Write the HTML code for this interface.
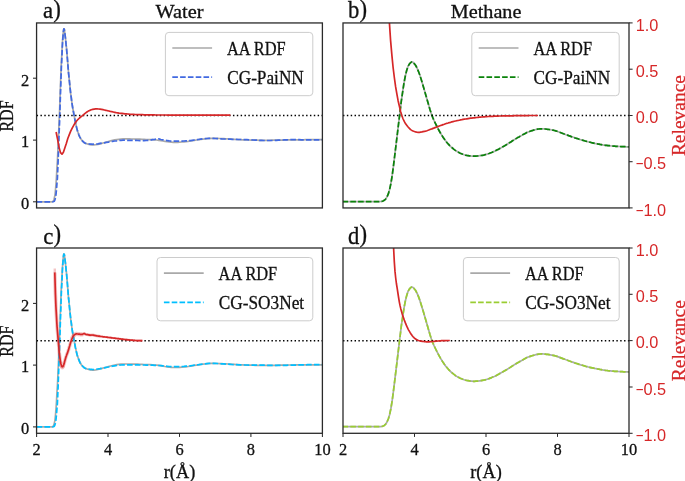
<!DOCTYPE html>
<html><head><meta charset="utf-8"><title>RDF and relevance</title>
<style>html,body{margin:0;padding:0;background:#fff}svg{display:block}</style></head>
<body>
<svg width="685" height="481" viewBox="0 0 685 481">
<rect width="100%" height="100%" fill="#fff"/>
<defs>
<clipPath id="cpa"><rect x="36.57" y="22.95" width="285.83" height="185.0"/></clipPath>
<clipPath id="cpb"><rect x="343.0" y="22.95" width="286.0" height="185.0"/></clipPath>
<clipPath id="cpc"><rect x="36.57" y="248.0" width="285.83" height="185.3"/></clipPath>
<clipPath id="cpd"><rect x="343.0" y="248.0" width="286.0" height="185.3"/></clipPath>
</defs>
<g clip-path="url(#cpa)" fill="none" stroke-linejoin="round">
<path d="M36.6,201.8 L43.4,201.8 L50.1,201.8 L50.5,201.8 L50.8,201.8 L51.1,201.8 L51.4,201.8 L51.7,201.8 L52.0,201.7 L52.3,201.6 L52.7,201.5 L53.0,201.3 L53.3,201.2 L53.6,200.6 L53.9,199.8 L54.2,198.6 L54.5,197.3 L54.9,195.5 L55.2,193.0 L55.5,189.9 L55.8,186.3 L56.1,182.5 L56.4,178.0 L56.7,172.6 L57.0,166.8 L57.4,160.7 L57.7,154.6 L58.0,148.1 L58.3,141.2 L58.6,134.2 L58.9,127.1 L59.2,119.1 L59.6,110.2 L59.9,101.4 L60.2,92.9 L60.5,84.5 L60.8,76.3 L61.1,68.5 L61.4,61.5 L61.8,54.7 L62.1,48.4 L62.4,42.9 L62.7,38.9 L63.0,35.3 L63.3,32.2 L63.6,29.8 L63.9,28.8 L64.3,29.5 L64.6,31.3 L64.9,33.7 L65.2,36.2 L65.5,38.6 L65.8,41.5 L66.1,44.7 L66.5,48.1 L66.8,51.7 L67.1,55.1 L67.4,58.7 L67.7,62.4 L68.0,66.2 L68.3,70.0 L68.6,73.6 L69.0,77.0 L69.3,80.2 L69.6,83.2 L69.9,86.2 L70.2,89.1 L70.5,91.9 L70.8,94.6 L71.2,97.1 L71.5,99.6 L71.8,101.9 L72.1,104.0 L72.4,106.0 L72.7,107.9 L73.0,109.8 L73.4,111.5 L73.7,113.2 L74.0,114.8 L74.3,116.4 L74.6,118.0 L74.9,119.6 L75.2,121.2 L75.5,122.8 L75.9,124.3 L76.2,125.8 L76.5,127.1 L76.8,128.4 L77.1,129.6 L77.4,130.6 L77.7,131.6 L78.1,132.5 L78.4,133.4 L78.7,134.3 L79.0,135.1 L79.3,135.8 L79.6,136.6 L79.9,137.2 L80.3,137.9 L80.6,138.4 L80.9,138.9 L81.2,139.4 L81.5,139.8 L81.8,140.2 L82.1,140.5 L82.4,140.9 L82.8,141.2 L83.1,141.5 L83.4,141.8 L83.7,142.1 L84.0,142.4 L84.3,142.6 L84.6,142.8 L85.0,143.0 L85.3,143.2 L85.6,143.3 L85.9,143.5 L86.2,143.6 L86.5,143.7 L86.8,143.8 L87.2,143.9 L87.5,144.0 L87.8,144.1 L88.1,144.2 L88.4,144.3 L88.7,144.4 L89.0,144.4 L89.3,144.5 L89.7,144.6 L90.0,144.7 L90.3,144.7 L90.6,144.8 L90.9,144.8 L91.2,144.9 L91.5,144.9 L91.9,144.9 L92.2,145.0 L92.5,145.0 L92.8,145.0 L93.1,145.0 L93.4,145.0 L93.7,145.0 L95.8,144.7 L97.9,144.3 L100.0,143.8 L102.1,143.3 L104.2,142.7 L106.3,142.1 L108.4,141.5 L110.5,140.9 L112.6,140.4 L114.7,139.9 L116.8,139.6 L118.9,139.3 L121.0,139.0 L123.1,138.9 L125.2,138.9 L127.3,138.9 L129.4,138.9 L131.5,139.0 L133.6,139.0 L135.7,139.1 L137.8,139.1 L139.9,139.2 L142.0,139.3 L144.1,139.4 L146.2,139.5 L148.3,139.6 L150.4,139.6 L152.5,139.7 L154.6,139.9 L156.7,140.0 L158.8,140.3 L160.9,140.6 L163.0,141.0 L165.1,141.4 L167.2,141.7 L169.3,142.0 L171.4,142.2 L173.5,142.4 L175.6,142.4 L177.7,142.3 L179.8,142.2 L181.9,142.0 L183.9,141.9 L186.0,141.7 L188.1,141.4 L190.2,141.0 L192.3,140.7 L194.4,140.3 L196.5,140.0 L198.6,139.7 L200.7,139.4 L202.8,139.1 L204.9,138.9 L207.0,138.6 L209.1,138.4 L211.2,138.3 L213.3,138.3 L215.4,138.4 L217.5,138.4 L219.6,138.5 L221.7,138.6 L223.8,138.7 L225.9,138.8 L228.0,138.9 L230.1,139.0 L232.2,139.2 L234.3,139.3 L236.4,139.5 L238.5,139.6 L240.6,139.7 L242.7,139.8 L244.8,139.9 L246.9,140.0 L249.0,140.0 L251.1,140.1 L253.2,140.1 L255.3,140.2 L257.4,140.2 L259.5,140.3 L261.6,140.3 L263.7,140.3 L265.8,140.3 L267.9,140.3 L270.0,140.3 L272.1,140.2 L274.2,140.2 L276.3,140.2 L278.4,140.1 L280.5,140.1 L282.5,140.1 L284.6,140.0 L286.7,140.0 L288.8,139.9 L290.9,139.9 L293.0,139.9 L295.1,139.8 L297.2,139.8 L299.3,139.8 L301.4,139.8 L303.5,139.8 L305.6,139.7 L307.7,139.7 L309.8,139.7 L311.9,139.7 L314.0,139.7 L316.1,139.7 L318.2,139.7 L320.3,139.7 L322.4,139.7" stroke="#a9a9a9" stroke-width="1.7"/>
<path d="M36.6,201.8 L43.4,201.8 L50.1,201.8 L50.5,201.8 L50.8,201.8 L51.1,201.8 L51.4,201.8 L51.7,201.8 L52.0,201.8 L52.3,201.8 L52.7,201.8 L53.0,201.7 L53.3,201.6 L53.6,201.5 L53.9,201.4 L54.2,201.2 L54.5,200.7 L54.9,199.8 L55.2,198.7 L55.5,197.4 L55.8,195.7 L56.1,193.3 L56.4,190.2 L56.7,186.6 L57.0,182.8 L57.4,178.1 L57.7,171.3 L58.0,163.8 L58.3,156.1 L58.6,147.9 L58.9,139.3 L59.2,130.4 L59.6,121.2 L59.9,111.7 L60.2,102.1 L60.5,92.9 L60.8,83.9 L61.1,75.1 L61.4,66.8 L61.8,59.4 L62.1,52.1 L62.4,45.6 L62.7,40.5 L63.0,36.6 L63.3,33.0 L63.6,30.2 L63.9,28.9 L64.3,29.4 L64.6,31.3 L64.9,33.7 L65.2,36.2 L65.5,38.6 L65.8,41.5 L66.1,44.7 L66.5,48.1 L66.8,51.7 L67.1,55.1 L67.4,58.7 L67.7,62.4 L68.0,66.2 L68.3,70.0 L68.6,73.6 L69.0,77.0 L69.3,80.2 L69.6,83.2 L69.9,86.2 L70.2,89.1 L70.5,91.9 L70.8,94.6 L71.2,97.1 L71.5,99.6 L71.8,101.9 L72.1,104.0 L72.4,106.0 L72.7,107.9 L73.0,109.8 L73.4,111.5 L73.7,113.2 L74.0,114.8 L74.3,116.4 L74.6,118.0 L74.9,119.6 L75.2,121.2 L75.5,122.8 L75.9,124.3 L76.2,125.8 L76.5,127.1 L76.8,128.4 L77.1,129.6 L77.4,130.6 L77.7,131.6 L78.1,132.5 L78.4,133.4 L78.7,134.3 L79.0,135.1 L79.3,135.8 L79.6,136.6 L79.9,137.2 L80.3,137.9 L80.6,138.4 L80.9,138.9 L81.2,139.4 L81.5,139.8 L81.8,140.2 L82.1,140.5 L82.4,140.9 L82.8,141.3 L83.1,141.6 L83.4,141.9 L83.7,142.2 L84.0,142.5 L84.3,142.7 L84.6,142.9 L85.0,143.1 L85.3,143.3 L85.6,143.4 L85.9,143.5 L86.2,143.5 L86.5,143.6 L86.8,143.6 L87.2,143.7 L87.5,143.8 L87.8,143.8 L88.1,143.9 L88.4,143.9 L88.7,143.9 L89.0,144.0 L89.3,144.0 L89.7,144.1 L90.0,144.1 L90.3,144.1 L90.6,144.2 L90.9,144.2 L91.2,144.2 L91.5,144.2 L91.9,144.2 L92.2,144.2 L92.5,144.2 L92.8,144.3 L93.1,144.3 L93.4,144.2 L93.7,144.2 L95.8,144.1 L97.9,143.8 L100.0,143.4 L102.1,143.1 L104.2,142.8 L106.3,142.4 L108.4,142.1 L110.5,141.7 L112.6,141.3 L114.7,141.0 L116.8,140.8 L118.9,140.5 L121.0,140.3 L123.1,140.2 L125.2,140.2 L127.3,140.3 L129.4,140.3 L131.5,140.3 L133.6,140.4 L135.7,140.4 L137.8,140.5 L139.9,140.6 L142.0,140.6 L144.1,140.6 L146.2,140.5 L148.3,140.4 L150.4,140.2 L152.5,139.7 L154.6,139.4 L156.7,139.0 L158.8,138.9 L160.9,139.5 L163.0,139.9 L165.1,140.3 L167.2,140.6 L169.3,140.9 L171.4,141.1 L173.5,141.2 L175.6,141.2 L177.7,141.2 L179.8,141.1 L181.9,141.1 L183.9,141.0 L186.0,140.9 L188.1,140.8 L190.2,140.6 L192.3,140.3 L194.4,140.0 L196.5,139.7 L198.6,139.5 L200.7,139.2 L202.8,138.9 L204.9,138.7 L207.0,138.5 L209.1,138.4 L211.2,138.3 L213.3,138.4 L215.4,138.5 L217.5,138.6 L219.6,138.7 L221.7,138.9 L223.8,139.0 L225.9,139.0 L228.0,139.1 L230.1,139.2 L232.2,139.3 L234.3,139.3 L236.4,139.4 L238.5,139.5 L240.6,139.5 L242.7,139.6 L244.8,139.6 L246.9,139.7 L249.0,139.8 L251.1,139.9 L253.2,140.0 L255.3,140.1 L257.4,140.2 L259.5,140.3 L261.6,140.4 L263.7,140.5 L265.8,140.5 L267.9,140.5 L270.0,140.5 L272.1,140.5 L274.2,140.4 L276.3,140.3 L278.4,140.2 L280.5,140.1 L282.5,140.0 L284.6,139.9 L286.7,139.8 L288.8,139.7 L290.9,139.6 L293.0,139.6 L295.1,139.6 L297.2,139.7 L299.3,139.7 L301.4,139.8 L303.5,139.8 L305.6,139.9 L307.7,139.9 L309.8,139.9 L311.9,139.9 L314.0,139.9 L316.1,139.9 L318.2,139.9 L320.3,139.8 L322.4,139.7" stroke="#4169e1" stroke-width="1.7" stroke-dasharray="5.6 2.2"/>
<path d="M36.6 115.45H322.4" stroke="#000" stroke-width="1.5" stroke-dasharray="1.45 2.4"/>
<path d="M56.1,132.0 L57.6,139.3 L59.0,147.1 L60.5,152.6 L62.0,154.2 L63.4,152.2 L64.9,147.8 L66.4,143.2 L67.8,138.5 L69.3,134.6 L70.7,131.1 L72.2,128.1 L73.7,125.4 L75.1,123.0 L76.6,121.0 L78.1,119.3 L79.5,118.0 L81.0,116.7 L82.5,115.6 L83.9,114.3 L85.4,113.1 L86.9,112.0 L88.3,111.1 L89.8,110.4 L91.3,109.8 L92.7,109.4 L94.2,109.1 L95.6,108.9 L97.1,108.9 L98.6,109.0 L100.0,109.2 L101.5,109.4 L103.0,109.7 L104.4,110.0 L105.9,110.3 L107.4,110.7 L108.8,111.0 L110.3,111.4 L111.8,111.7 L113.2,112.0 L114.7,112.3 L116.2,112.6 L117.6,112.8 L119.1,113.1 L120.5,113.3 L122.0,113.4 L123.5,113.6 L124.9,113.8 L126.4,113.9 L127.9,114.0 L129.3,114.2 L130.8,114.3 L132.3,114.4 L133.7,114.4 L135.2,114.5 L136.7,114.6 L138.1,114.6 L139.6,114.6 L141.1,114.7 L142.5,114.7 L144.0,114.8 L145.4,114.8 L146.9,114.8 L148.4,114.8 L149.8,114.9 L151.3,114.9 L152.8,114.9 L154.2,114.9 L155.7,115.0 L157.2,115.0 L158.6,115.0 L160.1,115.0 L161.6,115.0 L163.0,115.0 L164.5,115.0 L166.0,115.0 L167.4,115.1 L168.9,115.1 L170.3,115.1 L171.8,115.1 L173.3,115.1 L174.7,115.1 L176.2,115.1 L177.7,115.1 L179.1,115.1 L180.6,115.1 L182.1,115.2 L183.5,115.2 L185.0,115.2 L186.5,115.2 L187.9,115.2 L189.4,115.2 L190.9,115.2 L192.3,115.2 L193.8,115.2 L195.2,115.2 L196.7,115.2 L198.2,115.2 L199.6,115.2 L201.1,115.2 L202.6,115.2 L204.0,115.2 L205.5,115.2 L207.0,115.2 L208.4,115.2 L209.9,115.2 L211.4,115.2 L212.8,115.2 L214.3,115.2 L215.8,115.2 L217.2,115.2 L218.7,115.2 L220.1,115.2 L221.6,115.2 L223.1,115.2 L224.5,115.2 L226.0,115.2 L227.5,115.2 L228.9,115.2 L230.4,115.2" stroke="#d62728" stroke-width="1.7"/>
</g>
<g clip-path="url(#cpb)" fill="none" stroke-linejoin="round">
<path d="M342.5,201.6 L343.8,201.6 L345.1,201.6 L346.4,201.6 L347.7,201.6 L349.0,201.6 L350.3,201.6 L351.7,201.6 L353.0,201.6 L354.3,201.6 L355.6,201.6 L356.9,201.6 L358.2,201.6 L359.5,201.6 L360.8,201.6 L362.1,201.6 L363.4,201.6 L364.7,201.6 L366.0,201.6 L367.3,201.6 L368.7,201.6 L370.0,201.6 L371.3,201.6 L372.6,201.6 L373.9,201.6 L375.2,201.6 L376.5,201.6 L377.8,201.6 L379.1,201.6 L380.4,201.5 L381.7,201.4 L383.0,201.0 L384.3,200.3 L385.7,199.0 L387.0,196.9 L388.3,193.9 L389.6,189.6 L390.9,183.4 L392.2,175.5 L393.5,165.6 L394.8,155.0 L396.1,144.3 L397.4,133.5 L398.7,122.6 L400.0,111.9 L401.3,101.1 L402.7,91.6 L404.0,83.0 L405.3,76.1 L406.6,70.8 L407.9,66.6 L409.2,64.3 L410.5,62.7 L411.8,61.9 L413.1,62.4 L414.4,63.8 L415.7,65.5 L417.0,68.0 L418.4,71.3 L419.7,74.8 L421.0,78.8 L422.3,83.1 L423.6,87.5 L424.9,92.0 L426.2,96.4 L427.5,100.9 L428.8,105.5 L430.1,109.9 L431.4,113.9 L432.7,117.4 L434.0,120.5 L435.4,123.4 L436.7,126.0 L438.0,128.6 L439.3,131.0 L440.6,133.3 L441.9,135.4 L443.2,137.5 L444.5,139.3 L445.8,141.1 L447.1,142.7 L448.4,144.2 L449.7,145.6 L451.0,146.9 L452.4,148.0 L453.7,149.1 L455.0,150.1 L456.3,151.0 L457.6,151.8 L458.9,152.5 L460.2,153.2 L461.5,153.7 L462.8,154.2 L464.1,154.7 L465.4,155.1 L466.7,155.4 L468.0,155.6 L469.4,155.8 L470.7,156.0 L472.0,156.1 L473.3,156.2 L474.6,156.2 L475.9,156.1 L477.2,156.0 L478.5,155.9 L479.8,155.7 L481.1,155.5 L482.4,155.3 L483.7,155.1 L485.0,154.7 L486.4,154.4 L487.7,153.9 L489.0,153.5 L490.3,153.0 L491.6,152.5 L492.9,151.9 L494.2,151.4 L495.5,150.8 L496.8,150.1 L498.1,149.4 L499.4,148.7 L500.7,147.9 L502.0,147.2 L503.4,146.4 L504.7,145.7 L506.0,144.9 L507.3,144.2 L508.6,143.3 L509.9,142.5 L511.2,141.7 L512.5,140.8 L513.8,140.0 L515.1,139.2 L516.4,138.4 L517.7,137.6 L519.0,136.9 L520.4,136.1 L521.7,135.4 L523.0,134.6 L524.3,133.9 L525.6,133.2 L526.9,132.5 L528.2,131.9 L529.5,131.5 L530.8,131.0 L532.1,130.6 L533.4,130.2 L534.7,129.9 L536.0,129.5 L537.4,129.2 L538.7,129.0 L540.0,128.9 L541.3,128.8 L542.6,128.8 L543.9,128.9 L545.2,129.0 L546.5,129.2 L547.8,129.3 L549.1,129.5 L550.4,129.7 L551.7,130.0 L553.0,130.2 L554.4,130.5 L555.7,130.9 L557.0,131.3 L558.3,131.8 L559.6,132.3 L560.9,132.8 L562.2,133.3 L563.5,133.8 L564.8,134.2 L566.1,134.7 L567.4,135.1 L568.7,135.6 L570.1,136.1 L571.4,136.6 L572.7,137.0 L574.0,137.5 L575.3,138.0 L576.6,138.4 L577.9,138.8 L579.2,139.3 L580.5,139.7 L581.8,140.0 L583.1,140.4 L584.4,140.8 L585.7,141.2 L587.1,141.5 L588.4,141.9 L589.7,142.2 L591.0,142.5 L592.3,142.8 L593.6,143.1 L594.9,143.4 L596.2,143.6 L597.5,143.9 L598.8,144.1 L600.1,144.4 L601.4,144.6 L602.7,144.9 L604.1,145.1 L605.4,145.3 L606.7,145.4 L608.0,145.6 L609.3,145.7 L610.6,145.8 L611.9,146.0 L613.2,146.1 L614.5,146.2 L615.8,146.3 L617.1,146.3 L618.4,146.4 L619.7,146.5 L621.1,146.6 L622.4,146.6 L623.7,146.7 L625.0,146.7 L626.3,146.8 L627.6,146.8 L628.9,146.8" stroke="#a9a9a9" stroke-width="1.7"/>
<path d="M342.5,201.6 L343.8,201.6 L345.1,201.6 L346.4,201.6 L347.7,201.6 L349.0,201.6 L350.3,201.6 L351.7,201.6 L353.0,201.6 L354.3,201.6 L355.6,201.6 L356.9,201.6 L358.2,201.6 L359.5,201.6 L360.8,201.6 L362.1,201.6 L363.4,201.6 L364.7,201.6 L366.0,201.6 L367.3,201.6 L368.7,201.6 L370.0,201.6 L371.3,201.6 L372.6,201.6 L373.9,201.6 L375.2,201.6 L376.5,201.6 L377.8,201.6 L379.1,201.6 L380.4,201.5 L381.7,201.4 L383.0,201.0 L384.3,200.3 L385.7,199.0 L387.0,196.9 L388.3,193.9 L389.6,189.6 L390.9,183.4 L392.2,175.5 L393.5,165.6 L394.8,155.0 L396.1,144.3 L397.4,133.5 L398.7,122.6 L400.0,111.9 L401.3,101.1 L402.7,91.6 L404.0,83.0 L405.3,76.1 L406.6,70.8 L407.9,66.6 L409.2,64.3 L410.5,62.7 L411.8,61.9 L413.1,62.4 L414.4,63.8 L415.7,65.5 L417.0,68.0 L418.4,71.3 L419.7,74.8 L421.0,78.8 L422.3,83.1 L423.6,87.5 L424.9,92.0 L426.2,96.4 L427.5,100.9 L428.8,105.5 L430.1,109.9 L431.4,113.9 L432.7,117.4 L434.0,120.5 L435.4,123.4 L436.7,126.0 L438.0,128.6 L439.3,131.0 L440.6,133.3 L441.9,135.4 L443.2,137.5 L444.5,139.3 L445.8,141.1 L447.1,142.7 L448.4,144.2 L449.7,145.6 L451.0,146.9 L452.4,148.0 L453.7,149.1 L455.0,150.1 L456.3,151.0 L457.6,151.8 L458.9,152.5 L460.2,153.2 L461.5,153.7 L462.8,154.2 L464.1,154.7 L465.4,155.1 L466.7,155.4 L468.0,155.6 L469.4,155.8 L470.7,156.0 L472.0,156.1 L473.3,156.2 L474.6,156.2 L475.9,156.1 L477.2,156.0 L478.5,155.9 L479.8,155.7 L481.1,155.5 L482.4,155.3 L483.7,155.1 L485.0,154.7 L486.4,154.4 L487.7,153.9 L489.0,153.5 L490.3,153.0 L491.6,152.5 L492.9,151.9 L494.2,151.4 L495.5,150.8 L496.8,150.1 L498.1,149.4 L499.4,148.7 L500.7,147.9 L502.0,147.2 L503.4,146.4 L504.7,145.7 L506.0,144.9 L507.3,144.2 L508.6,143.3 L509.9,142.5 L511.2,141.7 L512.5,140.8 L513.8,140.0 L515.1,139.2 L516.4,138.4 L517.7,137.6 L519.0,136.9 L520.4,136.1 L521.7,135.4 L523.0,134.6 L524.3,133.9 L525.6,133.2 L526.9,132.5 L528.2,131.9 L529.5,131.5 L530.8,131.0 L532.1,130.6 L533.4,130.2 L534.7,129.9 L536.0,129.5 L537.4,129.2 L538.7,129.0 L540.0,128.9 L541.3,128.8 L542.6,128.8 L543.9,128.9 L545.2,129.0 L546.5,129.2 L547.8,129.3 L549.1,129.5 L550.4,129.7 L551.7,130.0 L553.0,130.2 L554.4,130.5 L555.7,130.9 L557.0,131.3 L558.3,131.8 L559.6,132.3 L560.9,132.8 L562.2,133.3 L563.5,133.8 L564.8,134.2 L566.1,134.7 L567.4,135.1 L568.7,135.6 L570.1,136.1 L571.4,136.6 L572.7,137.0 L574.0,137.5 L575.3,138.0 L576.6,138.4 L577.9,138.8 L579.2,139.3 L580.5,139.7 L581.8,140.0 L583.1,140.4 L584.4,140.8 L585.7,141.2 L587.1,141.5 L588.4,141.9 L589.7,142.2 L591.0,142.5 L592.3,142.8 L593.6,143.1 L594.9,143.4 L596.2,143.6 L597.5,143.9 L598.8,144.1 L600.1,144.4 L601.4,144.6 L602.7,144.9 L604.1,145.1 L605.4,145.3 L606.7,145.4 L608.0,145.6 L609.3,145.7 L610.6,145.8 L611.9,146.0 L613.2,146.1 L614.5,146.2 L615.8,146.3 L617.1,146.3 L618.4,146.4 L619.7,146.5 L621.1,146.6 L622.4,146.6 L623.7,146.7 L625.0,146.7 L626.3,146.8 L627.6,146.8 L628.9,146.8" stroke="#0a830a" stroke-width="1.7" stroke-dasharray="5.6 2.2"/>
<path d="M343 115.45H629" stroke="#000" stroke-width="1.5" stroke-dasharray="1.45 2.4"/>
<path d="M389.4,22.6 L390.6,40.6 L391.9,55.4 L393.1,67.5 L394.4,78.0 L395.6,86.7 L396.9,94.2 L398.1,100.7 L399.4,106.2 L400.6,111.4 L401.9,115.8 L403.1,119.0 L404.4,121.7 L405.6,123.8 L406.9,125.5 L408.1,127.0 L409.4,128.4 L410.6,129.6 L411.9,130.4 L413.1,131.0 L414.4,131.5 L415.6,131.9 L416.9,132.2 L418.1,132.3 L419.4,132.3 L420.6,132.1 L421.9,131.9 L423.1,131.6 L424.4,131.3 L425.6,131.1 L426.9,130.7 L428.1,130.3 L429.4,129.8 L430.6,129.3 L431.9,128.9 L433.1,128.4 L434.4,127.9 L435.6,127.4 L436.9,127.0 L438.1,126.5 L439.3,126.0 L440.6,125.5 L441.8,125.1 L443.1,124.6 L444.3,124.2 L445.6,123.7 L446.8,123.3 L448.1,123.0 L449.3,122.6 L450.6,122.3 L451.8,121.9 L453.1,121.6 L454.3,121.3 L455.6,121.0 L456.8,120.7 L458.1,120.5 L459.3,120.2 L460.6,119.9 L461.8,119.7 L463.1,119.4 L464.3,119.2 L465.6,119.0 L466.8,118.8 L468.1,118.6 L469.3,118.4 L470.6,118.2 L471.8,118.1 L473.1,117.9 L474.3,117.8 L475.6,117.6 L476.8,117.5 L478.1,117.3 L479.3,117.2 L480.6,117.1 L481.8,117.0 L483.1,116.9 L484.3,116.8 L485.6,116.7 L486.8,116.6 L488.1,116.5 L489.3,116.4 L490.5,116.4 L491.8,116.3 L493.0,116.3 L494.3,116.2 L495.5,116.2 L496.8,116.1 L498.0,116.1 L499.3,116.0 L500.5,116.0 L501.8,116.0 L503.0,115.9 L504.3,115.9 L505.5,115.9 L506.8,115.9 L508.0,115.8 L509.3,115.8 L510.5,115.8 L511.8,115.8 L513.0,115.8 L514.3,115.7 L515.5,115.7 L516.8,115.7 L518.0,115.7 L519.3,115.7 L520.5,115.6 L521.8,115.6 L523.0,115.6 L524.3,115.6 L525.5,115.6 L526.8,115.6 L528.0,115.6 L529.3,115.5 L530.5,115.5 L531.8,115.5 L533.0,115.5 L534.3,115.5 L535.5,115.5 L536.8,115.5 L538.0,115.5" stroke="#d62728" stroke-width="1.7"/>
</g>
<g clip-path="url(#cpc)" fill="none" stroke-linejoin="round">
<path d="M36.6,426.9 L43.4,426.9 L50.1,426.9 L50.5,426.9 L50.8,426.9 L51.1,426.9 L51.4,426.9 L51.7,426.9 L52.0,426.8 L52.3,426.7 L52.7,426.6 L53.0,426.4 L53.3,426.3 L53.6,425.7 L53.9,424.9 L54.2,423.7 L54.5,422.4 L54.9,420.6 L55.2,418.1 L55.5,415.0 L55.8,411.4 L56.1,407.6 L56.4,403.1 L56.7,397.7 L57.0,391.9 L57.4,385.8 L57.7,379.7 L58.0,373.2 L58.3,366.3 L58.6,359.3 L58.9,352.2 L59.2,344.2 L59.6,335.3 L59.9,326.5 L60.2,318.0 L60.5,309.6 L60.8,301.4 L61.1,293.6 L61.4,286.6 L61.8,279.8 L62.1,273.5 L62.4,268.0 L62.7,264.0 L63.0,260.4 L63.3,257.3 L63.6,254.9 L63.9,253.9 L64.3,254.6 L64.6,256.4 L64.9,258.8 L65.2,261.3 L65.5,263.7 L65.8,266.6 L66.1,269.8 L66.5,273.2 L66.8,276.8 L67.1,280.2 L67.4,283.8 L67.7,287.5 L68.0,291.3 L68.3,295.1 L68.6,298.7 L69.0,302.1 L69.3,305.3 L69.6,308.3 L69.9,311.3 L70.2,314.2 L70.5,317.0 L70.8,319.7 L71.2,322.2 L71.5,324.7 L71.8,327.0 L72.1,329.1 L72.4,331.1 L72.7,333.0 L73.0,334.9 L73.4,336.6 L73.7,338.3 L74.0,339.9 L74.3,341.5 L74.6,343.1 L74.9,344.7 L75.2,346.3 L75.5,347.9 L75.9,349.4 L76.2,350.9 L76.5,352.2 L76.8,353.5 L77.1,354.7 L77.4,355.7 L77.7,356.7 L78.1,357.6 L78.4,358.5 L78.7,359.4 L79.0,360.2 L79.3,360.9 L79.6,361.7 L79.9,362.3 L80.3,363.0 L80.6,363.5 L80.9,364.0 L81.2,364.5 L81.5,364.9 L81.8,365.3 L82.1,365.6 L82.4,366.0 L82.8,366.3 L83.1,366.6 L83.4,366.9 L83.7,367.2 L84.0,367.5 L84.3,367.7 L84.6,367.9 L85.0,368.1 L85.3,368.3 L85.6,368.4 L85.9,368.6 L86.2,368.7 L86.5,368.8 L86.8,368.9 L87.2,369.0 L87.5,369.1 L87.8,369.2 L88.1,369.3 L88.4,369.4 L88.7,369.5 L89.0,369.5 L89.3,369.6 L89.7,369.7 L90.0,369.8 L90.3,369.8 L90.6,369.9 L90.9,369.9 L91.2,370.0 L91.5,370.0 L91.9,370.0 L92.2,370.1 L92.5,370.1 L92.8,370.1 L93.1,370.1 L93.4,370.1 L93.7,370.1 L95.8,369.8 L97.9,369.4 L100.0,368.9 L102.1,368.4 L104.2,367.8 L106.3,367.2 L108.4,366.6 L110.5,366.0 L112.6,365.5 L114.7,365.0 L116.8,364.7 L118.9,364.4 L121.0,364.1 L123.1,364.0 L125.2,364.0 L127.3,364.0 L129.4,364.0 L131.5,364.1 L133.6,364.1 L135.7,364.2 L137.8,364.2 L139.9,364.3 L142.0,364.4 L144.1,364.5 L146.2,364.6 L148.3,364.7 L150.4,364.7 L152.5,364.8 L154.6,365.0 L156.7,365.1 L158.8,365.4 L160.9,365.7 L163.0,366.1 L165.1,366.5 L167.2,366.8 L169.3,367.1 L171.4,367.3 L173.5,367.5 L175.6,367.5 L177.7,367.4 L179.8,367.3 L181.9,367.1 L183.9,367.0 L186.0,366.8 L188.1,366.5 L190.2,366.1 L192.3,365.8 L194.4,365.4 L196.5,365.1 L198.6,364.8 L200.7,364.5 L202.8,364.2 L204.9,364.0 L207.0,363.7 L209.1,363.5 L211.2,363.4 L213.3,363.4 L215.4,363.5 L217.5,363.5 L219.6,363.6 L221.7,363.7 L223.8,363.8 L225.9,363.9 L228.0,364.0 L230.1,364.1 L232.2,364.3 L234.3,364.4 L236.4,364.6 L238.5,364.7 L240.6,364.8 L242.7,364.9 L244.8,365.0 L246.9,365.1 L249.0,365.1 L251.1,365.2 L253.2,365.2 L255.3,365.3 L257.4,365.3 L259.5,365.4 L261.6,365.4 L263.7,365.4 L265.8,365.4 L267.9,365.4 L270.0,365.4 L272.1,365.3 L274.2,365.3 L276.3,365.3 L278.4,365.2 L280.5,365.2 L282.5,365.2 L284.6,365.1 L286.7,365.1 L288.8,365.0 L290.9,365.0 L293.0,365.0 L295.1,364.9 L297.2,364.9 L299.3,364.9 L301.4,364.9 L303.5,364.9 L305.6,364.8 L307.7,364.8 L309.8,364.8 L311.9,364.8 L314.0,364.8 L316.1,364.8 L318.2,364.8 L320.3,364.8 L322.4,364.8" stroke="#a9a9a9" stroke-width="1.7"/>
<path d="M36.6,426.9 L43.4,426.9 L50.1,426.9 L50.5,426.9 L50.8,426.9 L51.1,426.9 L51.4,426.9 L51.7,426.9 L52.0,426.9 L52.3,426.9 L52.7,426.9 L53.0,426.8 L53.3,426.7 L53.6,426.6 L53.9,426.5 L54.2,426.3 L54.5,425.8 L54.9,424.9 L55.2,423.8 L55.5,422.5 L55.8,420.8 L56.1,418.4 L56.4,415.3 L56.7,411.7 L57.0,407.9 L57.4,403.2 L57.7,396.4 L58.0,388.9 L58.3,381.2 L58.6,373.0 L58.9,364.4 L59.2,355.5 L59.6,346.3 L59.9,336.8 L60.2,327.2 L60.5,318.0 L60.8,309.0 L61.1,300.2 L61.4,291.9 L61.8,284.5 L62.1,277.2 L62.4,270.7 L62.7,265.6 L63.0,261.7 L63.3,258.1 L63.6,255.3 L63.9,254.0 L64.3,254.5 L64.6,256.4 L64.9,258.8 L65.2,261.3 L65.5,263.7 L65.8,266.6 L66.1,269.8 L66.5,273.2 L66.8,276.8 L67.1,280.2 L67.4,283.8 L67.7,287.5 L68.0,291.3 L68.3,295.1 L68.6,298.7 L69.0,302.1 L69.3,305.3 L69.6,308.3 L69.9,311.3 L70.2,314.2 L70.5,317.0 L70.8,319.7 L71.2,322.2 L71.5,324.7 L71.8,327.0 L72.1,329.1 L72.4,331.1 L72.7,333.0 L73.0,334.9 L73.4,336.6 L73.7,338.3 L74.0,339.9 L74.3,341.5 L74.6,343.1 L74.9,344.7 L75.2,346.3 L75.5,347.9 L75.9,349.4 L76.2,350.9 L76.5,352.2 L76.8,353.5 L77.1,354.7 L77.4,355.7 L77.7,356.7 L78.1,357.6 L78.4,358.5 L78.7,359.4 L79.0,360.2 L79.3,360.9 L79.6,361.7 L79.9,362.3 L80.3,363.0 L80.6,363.5 L80.9,364.0 L81.2,364.5 L81.5,364.9 L81.8,365.3 L82.1,365.6 L82.4,366.0 L82.8,366.4 L83.1,366.7 L83.4,367.0 L83.7,367.3 L84.0,367.5 L84.3,367.8 L84.6,368.0 L85.0,368.2 L85.3,368.3 L85.6,368.5 L85.9,368.6 L86.2,368.6 L86.5,368.7 L86.8,368.8 L87.2,368.8 L87.5,368.9 L87.8,369.0 L88.1,369.0 L88.4,369.1 L88.7,369.1 L89.0,369.2 L89.3,369.2 L89.7,369.3 L90.0,369.3 L90.3,369.3 L90.6,369.4 L90.9,369.4 L91.2,369.4 L91.5,369.4 L91.9,369.4 L92.2,369.5 L92.5,369.5 L92.8,369.5 L93.1,369.5 L93.4,369.5 L93.7,369.5 L95.8,369.3 L97.9,369.0 L100.0,368.7 L102.1,368.3 L104.2,367.9 L106.3,367.4 L108.4,367.0 L110.5,366.5 L112.6,366.1 L114.7,365.8 L116.8,365.5 L118.9,365.2 L121.0,365.0 L123.1,364.9 L125.2,364.9 L127.3,364.9 L129.4,364.9 L131.5,364.9 L133.6,364.9 L135.7,364.9 L137.8,364.9 L139.9,365.0 L142.0,365.0 L144.1,365.0 L146.2,365.1 L148.3,365.1 L150.4,365.1 L152.5,365.2 L154.6,365.3 L156.7,365.3 L158.8,365.5 L160.9,365.7 L163.0,365.9 L165.1,366.1 L167.2,366.3 L169.3,366.5 L171.4,366.6 L173.5,366.7 L175.6,366.7 L177.7,366.6 L179.8,366.6 L181.9,366.5 L183.9,366.4 L186.0,366.2 L188.1,366.1 L190.2,365.8 L192.3,365.5 L194.4,365.2 L196.5,364.9 L198.6,364.7 L200.7,364.4 L202.8,364.1 L204.9,363.8 L207.0,363.6 L209.1,363.4 L211.2,363.3 L213.3,363.3 L215.4,363.4 L217.5,363.5 L219.6,363.7 L221.7,363.8 L223.8,363.9 L225.9,364.1 L228.0,364.2 L230.1,364.3 L232.2,364.5 L234.3,364.6 L236.4,364.7 L238.5,364.8 L240.6,364.9 L242.7,364.9 L244.8,365.0 L246.9,365.0 L249.0,365.1 L251.1,365.1 L253.2,365.1 L255.3,365.1 L257.4,365.1 L259.5,365.2 L261.6,365.2 L263.7,365.2 L265.8,365.3 L267.9,365.3 L270.0,365.3 L272.1,365.3 L274.2,365.3 L276.3,365.3 L278.4,365.3 L280.5,365.3 L282.5,365.3 L284.6,365.3 L286.7,365.3 L288.8,365.2 L290.9,365.2 L293.0,365.1 L295.1,365.1 L297.2,365.0 L299.3,364.9 L301.4,364.9 L303.5,364.8 L305.6,364.8 L307.7,364.7 L309.8,364.7 L311.9,364.6 L314.0,364.6 L316.1,364.6 L318.2,364.6 L320.3,364.6 L322.4,364.6" stroke="#00bfff" stroke-width="1.7" stroke-dasharray="5.6 2.2"/>
<path d="M36.6 340.65H322.4" stroke="#000" stroke-width="1.5" stroke-dasharray="1.45 2.4"/>
<path d="M54.8,272.5 L55.4,293.6 L55.9,306.2 L56.5,316.8 L57.0,326.0 L57.6,333.0 L58.1,339.0 L58.7,345.8 L59.2,352.2 L59.8,356.8 L60.3,360.5 L60.9,363.7 L61.4,365.6 L62.0,366.5 L62.5,366.7 L63.1,366.2 L63.6,365.1 L64.2,363.4 L64.7,361.3 L65.3,359.2 L65.8,357.4 L66.4,355.8 L66.9,354.3 L67.5,352.9 L68.0,351.3 L68.6,349.6 L69.1,347.7 L69.7,345.8 L70.2,344.0 L70.8,342.1 L71.3,340.5 L71.9,339.0" stroke="#d62728" stroke-opacity="0.27" stroke-width="3.5"/>
<path d="M71.9,339.0 L72.4,337.7 L73.0,336.6 L73.5,335.8 L74.1,335.1 L74.6,334.7 L75.2,334.3 L75.7,334.0 L76.3,333.9 L76.8,333.9 L77.4,334.0 L77.9,334.0 L78.5,334.1 L79.0,334.2 L79.6,334.2 L80.1,334.3 L80.7,334.3 L81.2,334.4 L81.8,334.4 L82.3,334.4 L82.9,334.1" stroke="#d62728" stroke-opacity="0.27" stroke-width="4.2"/>
<path d="M82.9,334.1 L83.4,333.8 L84.0,333.6 L84.6,333.6 L85.1,334.0 L85.7,334.4 L86.2,334.5 L86.8,334.6 L87.3,334.6 L87.9,334.7 L88.4,334.8 L89.0,334.9 L89.5,335.1 L90.1,335.2 L90.6,335.2 L91.2,335.1 L91.7,335.0 L92.3,335.0 L92.8,335.1 L93.4,335.1 L93.9,335.3 L94.5,335.4 L95.0,335.5 L95.6,335.6 L96.1,335.7 L96.7,335.8 L97.2,335.9 L97.8,336.0 L98.3,336.1 L98.9,336.2 L99.4,336.2 L100.0,336.3" stroke="#d62728" stroke-opacity="0.27" stroke-width="3"/>
<path d="M100.0,336.3 L100.5,336.4 L101.1,336.5 L101.6,336.5 L102.2,336.6 L102.7,336.7 L103.3,336.8 L103.8,336.8 L104.4,336.9 L104.9,337.0 L105.5,337.0 L106.0,337.1 L106.6,337.2 L107.1,337.2 L107.7,337.3 L108.2,337.4 L108.8,337.5 L109.3,337.5 L109.9,337.6 L110.4,337.7 L111.0,337.7 L111.5,337.8 L112.1,337.9 L112.6,338.0 L113.2,338.0 L113.8,338.1 L114.3,338.2 L114.9,338.2 L115.4,338.3 L116.0,338.4 L116.5,338.5 L117.1,338.5 L117.6,338.6 L118.2,338.7 L118.7,338.7 L119.3,338.8 L119.8,338.9 L120.4,338.9 L120.9,339.0 L121.5,339.1 L122.0,339.1 L122.6,339.2 L123.1,339.3 L123.7,339.3 L124.2,339.4 L124.8,339.5 L125.3,339.5 L125.9,339.6 L126.4,339.6 L127.0,339.7 L127.5,339.8 L128.1,339.8 L128.6,339.9 L129.2,339.9 L129.7,340.0 L130.3,340.0 L130.8,340.1 L131.4,340.1 L131.9,340.2 L132.5,340.2 L133.0,340.3 L133.6,340.3 L134.1,340.4 L134.7,340.4 L135.2,340.5 L135.8,340.5 L136.3,340.5 L136.9,340.6 L137.4,340.6 L138.0,340.6 L138.5,340.6 L139.1,340.6 L139.6,340.7 L140.2,340.7 L140.7,340.7 L141.3,340.7 L141.8,340.7 L142.4,340.7" stroke="#d62728" stroke-opacity="0.27" stroke-width="2.2"/>
<path d="M54.8 268.6V273.0" stroke="#d62728" stroke-opacity="0.27" stroke-width="2.4"/>
<path d="M60.5 366.0Q62.3 370.5 64.2 366.0" stroke="#d62728" stroke-opacity="0.27" stroke-width="2.4"/>
<path d="M54.8,272.5 L55.4,293.6 L55.9,306.2 L56.5,316.8 L57.0,326.0 L57.6,333.0 L58.1,339.0 L58.7,345.8 L59.2,352.2 L59.8,356.8 L60.3,360.5 L60.9,363.7 L61.4,365.6 L62.0,366.5 L62.5,366.7 L63.1,366.2 L63.6,365.1 L64.2,363.4 L64.7,361.3 L65.3,359.2 L65.8,357.4 L66.4,355.8 L66.9,354.3 L67.5,352.9 L68.0,351.3 L68.6,349.6 L69.1,347.7 L69.7,345.8 L70.2,344.0 L70.8,342.1 L71.3,340.5 L71.9,339.0 L72.4,337.7 L73.0,336.6 L73.5,335.8 L74.1,335.1 L74.6,334.7 L75.2,334.3 L75.7,334.0 L76.3,333.9 L76.8,333.9 L77.4,334.0 L77.9,334.0 L78.5,334.1 L79.0,334.2 L79.6,334.2 L80.1,334.3 L80.7,334.3 L81.2,334.4 L81.8,334.4 L82.3,334.4 L82.9,334.1 L83.4,333.8 L84.0,333.6 L84.6,333.6 L85.1,334.0 L85.7,334.4 L86.2,334.5 L86.8,334.6 L87.3,334.6 L87.9,334.7 L88.4,334.8 L89.0,334.9 L89.5,335.1 L90.1,335.2 L90.6,335.2 L91.2,335.1 L91.7,335.0 L92.3,335.0 L92.8,335.1 L93.4,335.1 L93.9,335.3 L94.5,335.4 L95.0,335.5 L95.6,335.6 L96.1,335.7 L96.7,335.8 L97.2,335.9 L97.8,336.0 L98.3,336.1 L98.9,336.2 L99.4,336.2 L100.0,336.3 L100.5,336.4 L101.1,336.5 L101.6,336.5 L102.2,336.6 L102.7,336.7 L103.3,336.8 L103.8,336.8 L104.4,336.9 L104.9,337.0 L105.5,337.0 L106.0,337.1 L106.6,337.2 L107.1,337.2 L107.7,337.3 L108.2,337.4 L108.8,337.5 L109.3,337.5 L109.9,337.6 L110.4,337.7 L111.0,337.7 L111.5,337.8 L112.1,337.9 L112.6,338.0 L113.2,338.0 L113.8,338.1 L114.3,338.2 L114.9,338.2 L115.4,338.3 L116.0,338.4 L116.5,338.5 L117.1,338.5 L117.6,338.6 L118.2,338.7 L118.7,338.7 L119.3,338.8 L119.8,338.9 L120.4,338.9 L120.9,339.0 L121.5,339.1 L122.0,339.1 L122.6,339.2 L123.1,339.3 L123.7,339.3 L124.2,339.4 L124.8,339.5 L125.3,339.5 L125.9,339.6 L126.4,339.6 L127.0,339.7 L127.5,339.8 L128.1,339.8 L128.6,339.9 L129.2,339.9 L129.7,340.0 L130.3,340.0 L130.8,340.1 L131.4,340.1 L131.9,340.2 L132.5,340.2 L133.0,340.3 L133.6,340.3 L134.1,340.4 L134.7,340.4 L135.2,340.5 L135.8,340.5 L136.3,340.5 L136.9,340.6 L137.4,340.6 L138.0,340.6 L138.5,340.6 L139.1,340.6 L139.6,340.7 L140.2,340.7 L140.7,340.7 L141.3,340.7 L141.8,340.7 L142.4,340.7" stroke="#d62728" stroke-width="1.7"/>
</g>
<g clip-path="url(#cpd)" fill="none" stroke-linejoin="round">
<path d="M342.5,426.7 L343.8,426.7 L345.1,426.7 L346.4,426.7 L347.7,426.7 L349.0,426.7 L350.3,426.7 L351.7,426.7 L353.0,426.7 L354.3,426.7 L355.6,426.7 L356.9,426.7 L358.2,426.7 L359.5,426.7 L360.8,426.7 L362.1,426.7 L363.4,426.7 L364.7,426.7 L366.0,426.7 L367.3,426.7 L368.7,426.7 L370.0,426.7 L371.3,426.7 L372.6,426.7 L373.9,426.7 L375.2,426.7 L376.5,426.7 L377.8,426.7 L379.1,426.7 L380.4,426.6 L381.7,426.5 L383.0,426.1 L384.3,425.4 L385.7,424.1 L387.0,422.0 L388.3,419.0 L389.6,414.7 L390.9,408.5 L392.2,400.6 L393.5,390.7 L394.8,380.1 L396.1,369.4 L397.4,358.6 L398.7,347.7 L400.0,337.0 L401.3,326.2 L402.7,316.7 L404.0,308.1 L405.3,301.2 L406.6,295.9 L407.9,291.7 L409.2,289.4 L410.5,287.8 L411.8,287.0 L413.1,287.5 L414.4,288.9 L415.7,290.6 L417.0,293.1 L418.4,296.4 L419.7,299.9 L421.0,303.9 L422.3,308.2 L423.6,312.6 L424.9,317.1 L426.2,321.5 L427.5,326.0 L428.8,330.6 L430.1,335.0 L431.4,339.0 L432.7,342.5 L434.0,345.6 L435.4,348.5 L436.7,351.1 L438.0,353.7 L439.3,356.1 L440.6,358.4 L441.9,360.5 L443.2,362.6 L444.5,364.4 L445.8,366.2 L447.1,367.8 L448.4,369.3 L449.7,370.7 L451.0,372.0 L452.4,373.1 L453.7,374.2 L455.0,375.2 L456.3,376.1 L457.6,376.9 L458.9,377.6 L460.2,378.3 L461.5,378.8 L462.8,379.3 L464.1,379.8 L465.4,380.2 L466.7,380.5 L468.0,380.7 L469.4,380.9 L470.7,381.1 L472.0,381.2 L473.3,381.3 L474.6,381.3 L475.9,381.2 L477.2,381.1 L478.5,381.0 L479.8,380.8 L481.1,380.6 L482.4,380.4 L483.7,380.2 L485.0,379.8 L486.4,379.5 L487.7,379.0 L489.0,378.6 L490.3,378.1 L491.6,377.6 L492.9,377.0 L494.2,376.5 L495.5,375.9 L496.8,375.2 L498.1,374.5 L499.4,373.8 L500.7,373.0 L502.0,372.3 L503.4,371.5 L504.7,370.8 L506.0,370.0 L507.3,369.3 L508.6,368.4 L509.9,367.6 L511.2,366.8 L512.5,365.9 L513.8,365.1 L515.1,364.3 L516.4,363.5 L517.7,362.7 L519.0,362.0 L520.4,361.2 L521.7,360.5 L523.0,359.7 L524.3,359.0 L525.6,358.3 L526.9,357.6 L528.2,357.0 L529.5,356.6 L530.8,356.1 L532.1,355.7 L533.4,355.3 L534.7,355.0 L536.0,354.6 L537.4,354.3 L538.7,354.1 L540.0,354.0 L541.3,353.9 L542.6,353.9 L543.9,354.0 L545.2,354.1 L546.5,354.3 L547.8,354.4 L549.1,354.6 L550.4,354.8 L551.7,355.1 L553.0,355.3 L554.4,355.6 L555.7,356.0 L557.0,356.4 L558.3,356.9 L559.6,357.4 L560.9,357.9 L562.2,358.4 L563.5,358.9 L564.8,359.3 L566.1,359.8 L567.4,360.2 L568.7,360.7 L570.1,361.2 L571.4,361.7 L572.7,362.1 L574.0,362.6 L575.3,363.1 L576.6,363.5 L577.9,363.9 L579.2,364.4 L580.5,364.8 L581.8,365.1 L583.1,365.5 L584.4,365.9 L585.7,366.3 L587.1,366.6 L588.4,367.0 L589.7,367.3 L591.0,367.6 L592.3,367.9 L593.6,368.2 L594.9,368.5 L596.2,368.7 L597.5,369.0 L598.8,369.2 L600.1,369.5 L601.4,369.7 L602.7,370.0 L604.1,370.2 L605.4,370.4 L606.7,370.5 L608.0,370.7 L609.3,370.8 L610.6,370.9 L611.9,371.1 L613.2,371.2 L614.5,371.3 L615.8,371.4 L617.1,371.4 L618.4,371.5 L619.7,371.6 L621.1,371.7 L622.4,371.7 L623.7,371.8 L625.0,371.8 L626.3,371.9 L627.6,371.9 L628.9,371.9" stroke="#a9a9a9" stroke-width="1.7"/>
<path d="M342.5,426.7 L343.8,426.7 L345.1,426.7 L346.4,426.7 L347.7,426.7 L349.0,426.7 L350.3,426.7 L351.7,426.7 L353.0,426.7 L354.3,426.7 L355.6,426.7 L356.9,426.7 L358.2,426.7 L359.5,426.7 L360.8,426.7 L362.1,426.7 L363.4,426.7 L364.7,426.7 L366.0,426.7 L367.3,426.7 L368.7,426.7 L370.0,426.7 L371.3,426.7 L372.6,426.7 L373.9,426.7 L375.2,426.7 L376.5,426.7 L377.8,426.7 L379.1,426.7 L380.4,426.6 L381.7,426.5 L383.0,426.1 L384.3,425.4 L385.7,424.1 L387.0,422.0 L388.3,419.0 L389.6,414.7 L390.9,408.5 L392.2,400.6 L393.5,390.7 L394.8,380.1 L396.1,369.4 L397.4,358.6 L398.7,347.7 L400.0,337.0 L401.3,326.2 L402.7,316.7 L404.0,308.1 L405.3,301.2 L406.6,295.9 L407.9,291.7 L409.2,289.4 L410.5,287.8 L411.8,287.0 L413.1,287.5 L414.4,288.9 L415.7,290.6 L417.0,293.1 L418.4,296.4 L419.7,299.9 L421.0,303.9 L422.3,308.2 L423.6,312.6 L424.9,317.1 L426.2,321.5 L427.5,326.0 L428.8,330.6 L430.1,335.0 L431.4,339.0 L432.7,342.5 L434.0,345.6 L435.4,348.5 L436.7,351.1 L438.0,353.7 L439.3,356.1 L440.6,358.4 L441.9,360.5 L443.2,362.6 L444.5,364.4 L445.8,366.2 L447.1,367.8 L448.4,369.3 L449.7,370.7 L451.0,372.0 L452.4,373.1 L453.7,374.2 L455.0,375.2 L456.3,376.1 L457.6,376.9 L458.9,377.6 L460.2,378.3 L461.5,378.8 L462.8,379.3 L464.1,379.8 L465.4,380.2 L466.7,380.5 L468.0,380.7 L469.4,380.9 L470.7,381.1 L472.0,381.2 L473.3,381.3 L474.6,381.3 L475.9,381.2 L477.2,381.1 L478.5,381.0 L479.8,380.8 L481.1,380.6 L482.4,380.4 L483.7,380.2 L485.0,379.8 L486.4,379.5 L487.7,379.0 L489.0,378.6 L490.3,378.1 L491.6,377.6 L492.9,377.0 L494.2,376.5 L495.5,375.9 L496.8,375.2 L498.1,374.5 L499.4,373.8 L500.7,373.0 L502.0,372.3 L503.4,371.5 L504.7,370.8 L506.0,370.0 L507.3,369.3 L508.6,368.4 L509.9,367.6 L511.2,366.8 L512.5,365.9 L513.8,365.1 L515.1,364.3 L516.4,363.5 L517.7,362.7 L519.0,362.0 L520.4,361.2 L521.7,360.5 L523.0,359.7 L524.3,359.0 L525.6,358.3 L526.9,357.6 L528.2,357.0 L529.5,356.6 L530.8,356.1 L532.1,355.7 L533.4,355.3 L534.7,355.0 L536.0,354.6 L537.4,354.3 L538.7,354.1 L540.0,354.0 L541.3,353.9 L542.6,353.9 L543.9,354.0 L545.2,354.1 L546.5,354.3 L547.8,354.4 L549.1,354.6 L550.4,354.8 L551.7,355.1 L553.0,355.3 L554.4,355.6 L555.7,356.0 L557.0,356.4 L558.3,356.9 L559.6,357.4 L560.9,357.9 L562.2,358.4 L563.5,358.9 L564.8,359.3 L566.1,359.8 L567.4,360.2 L568.7,360.7 L570.1,361.2 L571.4,361.7 L572.7,362.1 L574.0,362.6 L575.3,363.1 L576.6,363.5 L577.9,363.9 L579.2,364.4 L580.5,364.8 L581.8,365.1 L583.1,365.5 L584.4,365.9 L585.7,366.3 L587.1,366.6 L588.4,367.0 L589.7,367.3 L591.0,367.6 L592.3,367.9 L593.6,368.2 L594.9,368.5 L596.2,368.7 L597.5,369.0 L598.8,369.2 L600.1,369.5 L601.4,369.7 L602.7,370.0 L604.1,370.2 L605.4,370.4 L606.7,370.5 L608.0,370.7 L609.3,370.8 L610.6,370.9 L611.9,371.1 L613.2,371.2 L614.5,371.3 L615.8,371.4 L617.1,371.4 L618.4,371.5 L619.7,371.6 L621.1,371.7 L622.4,371.7 L623.7,371.8 L625.0,371.8 L626.3,371.9 L627.6,371.9 L628.9,371.9" stroke="#9acd32" stroke-width="1.7" stroke-dasharray="5.6 2.2"/>
<path d="M343 340.65H629" stroke="#000" stroke-width="1.5" stroke-dasharray="1.45 2.4"/>
<path d="M393.6,248.0 L394.3,261.6 L395.0,271.4 L395.7,278.0 L396.4,283.5 L397.2,288.3 L397.9,293.0 L398.6,297.5 L399.3,301.8 L400.0,305.4 L400.7,308.4 L401.4,311.1 L402.1,313.6 L402.8,315.9 L403.6,318.1 L404.3,320.1 L405.0,321.9 L405.7,323.7 L406.4,325.3 L407.1,326.9 L407.8,328.4 L408.5,329.8 L409.3,331.2 L410.0,332.4 L410.7,333.5 L411.4,334.6 L412.1,335.6 L412.8,336.5 L413.5,337.2 L414.2,337.9 L414.9,338.5 L415.7,339.0 L416.4,339.5 L417.1,339.9 L417.8,340.2 L418.5,340.5 L419.2,340.7 L419.9,340.9 L420.6,341.1 L421.3,341.2 L422.1,341.4 L422.8,341.4 L423.5,341.5 L424.2,341.6 L424.9,341.7 L425.6,341.7 L426.3,341.8 L427.0,341.8 L427.7,341.8 L428.5,341.8 L429.2,341.8 L429.9,341.7 L430.6,341.7 L431.3,341.6 L432.0,341.5 L432.7,341.5 L433.4,341.4 L434.1,341.4 L434.9,341.3 L435.6,341.2 L436.3,341.2 L437.0,341.1 L437.7,341.0 L438.4,341.0 L439.1,340.9 L439.8,340.8 L440.6,340.8 L441.3,340.7 L442.0,340.7 L442.7,340.7 L443.4,340.6 L444.1,340.6 L444.8,340.6 L445.5,340.6 L446.2,340.6 L447.0,340.5 L447.7,340.5 L448.4,340.5 L449.1,340.5 L449.8,340.5" stroke="#d62728" stroke-width="1.7"/>
</g>
<g fill="none" stroke="#2a2a2a" stroke-width="1.3">
<rect x="36.57" y="22.95" width="285.83" height="185.00"/>
<rect x="343.0" y="22.95" width="286.00" height="185.00"/>
<rect x="36.57" y="248.0" width="285.83" height="185.30"/>
<rect x="343.0" y="248.0" width="286.00" height="185.30"/>
</g>
<g fill="none" stroke="#2a2a2a" stroke-width="1.05">
<path d="M33.0 201.8H36.57"/>
<path d="M33.0 140.1H36.57"/>
<path d="M33.0 78.2H36.57"/>
<path d="M33.0 426.9H36.57"/>
<path d="M33.0 365.1H36.57"/>
<path d="M33.0 303.4H36.57"/>
<path d="M629.0 22.9h3.6"/>
<path d="M629.0 69.2h3.6"/>
<path d="M629.0 115.5h3.6"/>
<path d="M629.0 161.7h3.6"/>
<path d="M629.0 207.9h3.6"/>
<path d="M629.0 248.0h3.6"/>
<path d="M629.0 294.3h3.6"/>
<path d="M629.0 340.6h3.6"/>
<path d="M629.0 387.0h3.6"/>
<path d="M629.0 433.3h3.6"/>
<path d="M36.6 433.3v3.6"/>
<path d="M108.0 433.3v3.6"/>
<path d="M179.5 433.3v3.6"/>
<path d="M250.9 433.3v3.6"/>
<path d="M322.4 433.3v3.6"/>
<path d="M343.0 433.3v3.6"/>
<path d="M414.5 433.3v3.6"/>
<path d="M486.0 433.3v3.6"/>
<path d="M557.5 433.3v3.6"/>
<path d="M629.0 433.3v3.6"/>
</g>
<text x="43" y="18.4" font-size="22.8" fill="#111" stroke="#111" stroke-width="0.3" font-family="Liberation Serif, serif"><tspan>a</tspan><tspan x="53.2" y="17" font-size="26" textLength="7.6" lengthAdjust="spacingAndGlyphs">)</tspan></text>
<text x="348" y="18.4" font-size="24.8" fill="#111" stroke="#111" stroke-width="0.3" font-family="Liberation Serif, serif"><tspan textLength="11.3" lengthAdjust="spacingAndGlyphs">b</tspan><tspan x="359.5" y="17" font-size="26" textLength="7.6" lengthAdjust="spacingAndGlyphs">)</tspan></text>
<text x="43.3" y="243.6" font-size="22.8" fill="#111" stroke="#111" stroke-width="0.3" font-family="Liberation Serif, serif"><tspan>c</tspan><tspan x="53.5" y="242" font-size="26" textLength="7.6" lengthAdjust="spacingAndGlyphs">)</tspan></text>
<text x="348" y="243.6" font-size="24.8" fill="#111" stroke="#111" stroke-width="0.3" font-family="Liberation Serif, serif"><tspan textLength="11.3" lengthAdjust="spacingAndGlyphs">d</tspan><tspan x="359.5" y="242" font-size="26" textLength="7.6" lengthAdjust="spacingAndGlyphs">)</tspan></text>
<text x="179.5" y="18" font-size="18.3" text-anchor="middle" fill="#111" stroke="#111" stroke-width="0.3" font-family="Liberation Serif, serif" textLength="48" lengthAdjust="spacingAndGlyphs">Water</text>
<text x="486.1" y="18" font-size="18.3" text-anchor="middle" fill="#111" stroke="#111" stroke-width="0.3" font-family="Liberation Serif, serif" textLength="70.6" lengthAdjust="spacingAndGlyphs">Methane</text>
<text x="29.3" y="209.2" font-size="16.4" text-anchor="end" fill="#111" stroke="#111" stroke-width="0.3" font-family="Liberation Serif, serif" textLength="8.2" lengthAdjust="spacingAndGlyphs">0</text>
<text x="29.3" y="147.4" font-size="16.4" text-anchor="end" fill="#111" stroke="#111" stroke-width="0.3" font-family="Liberation Serif, serif" textLength="8.2" lengthAdjust="spacingAndGlyphs">1</text>
<text x="29.3" y="85.5" font-size="16.4" text-anchor="end" fill="#111" stroke="#111" stroke-width="0.3" font-family="Liberation Serif, serif" textLength="8.2" lengthAdjust="spacingAndGlyphs">2</text>
<text x="29.3" y="434.2" font-size="16.4" text-anchor="end" fill="#111" stroke="#111" stroke-width="0.3" font-family="Liberation Serif, serif" textLength="8.2" lengthAdjust="spacingAndGlyphs">0</text>
<text x="29.3" y="372.4" font-size="16.4" text-anchor="end" fill="#111" stroke="#111" stroke-width="0.3" font-family="Liberation Serif, serif" textLength="8.2" lengthAdjust="spacingAndGlyphs">1</text>
<text x="29.3" y="310.7" font-size="16.4" text-anchor="end" fill="#111" stroke="#111" stroke-width="0.3" font-family="Liberation Serif, serif" textLength="8.2" lengthAdjust="spacingAndGlyphs">2</text>
<text x="635.7" y="30.5" font-size="16.3" text-anchor="start" fill="#d62728" stroke="#d62728" stroke-width="0" font-family="Liberation Sans, sans-serif">1.0</text>
<text x="635.7" y="76.8" font-size="16.3" text-anchor="start" fill="#d62728" stroke="#d62728" stroke-width="0" font-family="Liberation Sans, sans-serif">0.5</text>
<text x="635.7" y="123.0" font-size="16.3" text-anchor="start" fill="#d62728" stroke="#d62728" stroke-width="0" font-family="Liberation Sans, sans-serif">0.0</text>
<text x="635.7" y="169.3" font-size="16.3" fill="#d62728" font-family="Liberation Sans, sans-serif"><tspan textLength="7.7" lengthAdjust="spacingAndGlyphs">−</tspan><tspan x="643.4">0.5</tspan></text>
<text x="635.7" y="215.5" font-size="16.3" fill="#d62728" font-family="Liberation Sans, sans-serif"><tspan textLength="7.7" lengthAdjust="spacingAndGlyphs">−</tspan><tspan x="643.4">1.0</tspan></text>
<text x="635.7" y="255.6" font-size="16.3" text-anchor="start" fill="#d62728" stroke="#d62728" stroke-width="0" font-family="Liberation Sans, sans-serif">1.0</text>
<text x="635.7" y="301.9" font-size="16.3" text-anchor="start" fill="#d62728" stroke="#d62728" stroke-width="0" font-family="Liberation Sans, sans-serif">0.5</text>
<text x="635.7" y="348.2" font-size="16.3" text-anchor="start" fill="#d62728" stroke="#d62728" stroke-width="0" font-family="Liberation Sans, sans-serif">0.0</text>
<text x="635.7" y="394.6" font-size="16.3" fill="#d62728" font-family="Liberation Sans, sans-serif"><tspan textLength="7.7" lengthAdjust="spacingAndGlyphs">−</tspan><tspan x="643.4">0.5</tspan></text>
<text x="635.7" y="440.9" font-size="16.3" fill="#d62728" font-family="Liberation Sans, sans-serif"><tspan textLength="7.7" lengthAdjust="spacingAndGlyphs">−</tspan><tspan x="643.4">1.0</tspan></text>
<text x="36.6" y="455" font-size="16.4" text-anchor="middle" fill="#111" stroke="#111" stroke-width="0.3" font-family="Liberation Serif, serif" textLength="8.2" lengthAdjust="spacingAndGlyphs">2</text>
<text x="108.0" y="455" font-size="16.8" text-anchor="middle" fill="#111" stroke="#111" stroke-width="0.3" font-family="Liberation Serif, serif" textLength="8.2" lengthAdjust="spacingAndGlyphs">4</text>
<text x="179.5" y="455" font-size="17.4" text-anchor="middle" fill="#111" stroke="#111" stroke-width="0.3" font-family="Liberation Serif, serif" textLength="8.2" lengthAdjust="spacingAndGlyphs">6</text>
<text x="250.9" y="455" font-size="17.4" text-anchor="middle" fill="#111" stroke="#111" stroke-width="0.3" font-family="Liberation Serif, serif" textLength="8.2" lengthAdjust="spacingAndGlyphs">8</text>
<text x="322.4" y="455" font-size="16.4" text-anchor="middle" fill="#111" stroke="#111" stroke-width="0.3" font-family="Liberation Serif, serif" textLength="16.4" lengthAdjust="spacingAndGlyphs">10</text>
<text x="179.5" y="478" font-size="19" text-anchor="middle" fill="#111" stroke="#111" stroke-width="0.3" font-family="Liberation Serif, serif" textLength="31.5" lengthAdjust="spacingAndGlyphs">r(Å)</text>
<text x="343.0" y="455" font-size="16.4" text-anchor="middle" fill="#111" stroke="#111" stroke-width="0.3" font-family="Liberation Serif, serif" textLength="8.2" lengthAdjust="spacingAndGlyphs">2</text>
<text x="414.5" y="455" font-size="16.8" text-anchor="middle" fill="#111" stroke="#111" stroke-width="0.3" font-family="Liberation Serif, serif" textLength="8.2" lengthAdjust="spacingAndGlyphs">4</text>
<text x="486.0" y="455" font-size="17.4" text-anchor="middle" fill="#111" stroke="#111" stroke-width="0.3" font-family="Liberation Serif, serif" textLength="8.2" lengthAdjust="spacingAndGlyphs">6</text>
<text x="557.5" y="455" font-size="17.4" text-anchor="middle" fill="#111" stroke="#111" stroke-width="0.3" font-family="Liberation Serif, serif" textLength="8.2" lengthAdjust="spacingAndGlyphs">8</text>
<text x="629.0" y="455" font-size="16.4" text-anchor="middle" fill="#111" stroke="#111" stroke-width="0.3" font-family="Liberation Serif, serif" textLength="16.4" lengthAdjust="spacingAndGlyphs">10</text>
<text x="486.0" y="478" font-size="19" text-anchor="middle" fill="#111" stroke="#111" stroke-width="0.3" font-family="Liberation Serif, serif" textLength="31.5" lengthAdjust="spacingAndGlyphs">r(Å)</text>
<text transform="translate(12.6 116.0) rotate(-90)" font-size="19" text-anchor="middle" fill="#111" stroke="#111" stroke-width="0.3" font-family="Liberation Serif, serif" textLength="31.2" lengthAdjust="spacingAndGlyphs">RDF</text>
<text transform="translate(685.2 115.6) rotate(-90)" font-size="19" text-anchor="middle" fill="#d62728" stroke="#d62728" stroke-width="0.25" font-family="Liberation Serif, serif" textLength="81" lengthAdjust="spacingAndGlyphs">Relevance</text>
<text transform="translate(12.6 341.1) rotate(-90)" font-size="19" text-anchor="middle" fill="#111" stroke="#111" stroke-width="0.3" font-family="Liberation Serif, serif" textLength="31.2" lengthAdjust="spacingAndGlyphs">RDF</text>
<text transform="translate(685.2 340.7) rotate(-90)" font-size="19" text-anchor="middle" fill="#d62728" stroke="#d62728" stroke-width="0.25" font-family="Liberation Serif, serif" textLength="81" lengthAdjust="spacingAndGlyphs">Relevance</text>
<rect x="165.4" y="32.4" width="147.4" height="63.3" rx="3.5" fill="#fff" fill-opacity="0.8" stroke="#ccc" stroke-width="1"/>
<path d="M172.3 48.0H212.1" stroke="#a9a9a9" stroke-width="1.7"/>
<path d="M172.3 77.2H212.1" stroke="#4169e1" stroke-width="1.7" stroke-dasharray="5.6 2.2"/>
<text x="227.0" y="54.8" font-size="19" text-anchor="start" fill="#111" stroke="#111" stroke-width="0.3" font-family="Liberation Serif, serif" textLength="58.6" lengthAdjust="spacingAndGlyphs">AA RDF</text>
<text x="227.2" y="83.5" font-size="19" text-anchor="start" fill="#111" stroke="#111" stroke-width="0.3" font-family="Liberation Serif, serif" textLength="76.6" lengthAdjust="spacingAndGlyphs">CG-PaiNN</text>
<rect x="471.8" y="32.4" width="147.4" height="63.3" rx="3.5" fill="#fff" fill-opacity="0.8" stroke="#ccc" stroke-width="1"/>
<path d="M478.7 48.0H518.5" stroke="#a9a9a9" stroke-width="1.7"/>
<path d="M478.7 77.2H518.5" stroke="#0a830a" stroke-width="1.7" stroke-dasharray="5.6 2.2"/>
<text x="533.4" y="54.8" font-size="19" text-anchor="start" fill="#111" stroke="#111" stroke-width="0.3" font-family="Liberation Serif, serif" textLength="58.6" lengthAdjust="spacingAndGlyphs">AA RDF</text>
<text x="533.6" y="83.5" font-size="19" text-anchor="start" fill="#111" stroke="#111" stroke-width="0.3" font-family="Liberation Serif, serif" textLength="76.6" lengthAdjust="spacingAndGlyphs">CG-PaiNN</text>
<rect x="157" y="257.5" width="155.8" height="63.3" rx="3.5" fill="#fff" fill-opacity="0.8" stroke="#ccc" stroke-width="1"/>
<path d="M163.9 273.1H203.7" stroke="#a9a9a9" stroke-width="1.7"/>
<path d="M163.9 302.3H203.7" stroke="#00bfff" stroke-width="1.7" stroke-dasharray="5.6 2.2"/>
<text x="218.6" y="279.9" font-size="19" text-anchor="start" fill="#111" stroke="#111" stroke-width="0.3" font-family="Liberation Serif, serif" textLength="58.6" lengthAdjust="spacingAndGlyphs">AA RDF</text>
<text x="218.8" y="308.6" font-size="19" text-anchor="start" fill="#111" stroke="#111" stroke-width="0.3" font-family="Liberation Serif, serif" textLength="85.3" lengthAdjust="spacingAndGlyphs">CG-SO3Net</text>
<rect x="463.4" y="257.5" width="155.8" height="63.3" rx="3.5" fill="#fff" fill-opacity="0.8" stroke="#ccc" stroke-width="1"/>
<path d="M470.3 273.1H510.1" stroke="#a9a9a9" stroke-width="1.7"/>
<path d="M470.3 302.3H510.1" stroke="#9acd32" stroke-width="1.7" stroke-dasharray="5.6 2.2"/>
<text x="525.0" y="279.9" font-size="19" text-anchor="start" fill="#111" stroke="#111" stroke-width="0.3" font-family="Liberation Serif, serif" textLength="58.6" lengthAdjust="spacingAndGlyphs">AA RDF</text>
<text x="525.2" y="308.6" font-size="19" text-anchor="start" fill="#111" stroke="#111" stroke-width="0.3" font-family="Liberation Serif, serif" textLength="85.3" lengthAdjust="spacingAndGlyphs">CG-SO3Net</text>
</svg>
</body></html>
